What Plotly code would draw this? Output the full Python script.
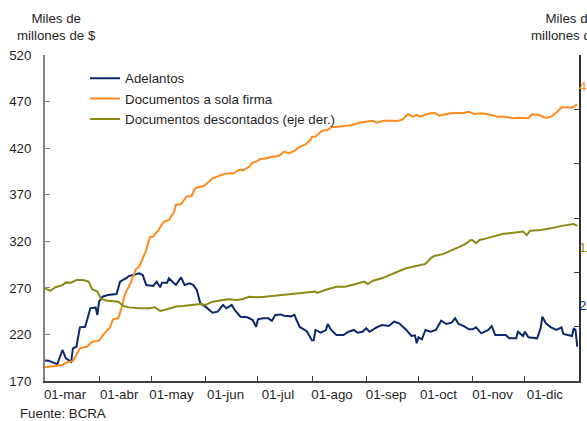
import plotly.graph_objects as go

# ---------------- data ----------------
adelantos_dates = ["2020-03-01","2020-03-03","2020-03-08","2020-03-11","2020-03-13","2020-03-16","2020-03-17","2020-03-19",
    "2020-03-21","2020-03-24","2020-03-27","2020-03-30","2020-03-31","2020-04-01","2020-04-03","2020-04-06","2020-04-11",
    "2020-04-13","2020-04-17","2020-04-18","2020-04-24","2020-04-26","2020-04-28","2020-05-02","2020-05-04","2020-05-06",
    "2020-05-07","2020-05-10","2020-05-11","2020-05-15","2020-05-18","2020-05-20","2020-05-23","2020-05-25","2020-05-27",
    "2020-05-29","2020-06-01","2020-06-05","2020-06-08","2020-06-11","2020-06-13","2020-06-16","2020-06-18","2020-06-21",
    "2020-06-25","2020-06-28","2020-06-30","2020-07-01","2020-07-04","2020-07-07","2020-07-09","2020-07-11","2020-07-14",
    "2020-07-16","2020-07-20","2020-07-22","2020-07-23","2020-07-25","2020-07-29","2020-07-31","2020-08-01","2020-08-02",
    "2020-08-03","2020-08-06","2020-08-09","2020-08-10","2020-08-12","2020-08-15","2020-08-19","2020-08-22","2020-08-25",
    "2020-08-27","2020-08-30","2020-09-01","2020-09-03","2020-09-07","2020-09-10","2020-09-14","2020-09-17","2020-09-20",
    "2020-09-24","2020-09-27","2020-09-29","2020-09-30","2020-10-01","2020-10-03","2020-10-05","2020-10-08","2020-10-11",
    "2020-10-14","2020-10-17","2020-10-20","2020-10-22","2020-10-24","2020-10-27","2020-10-30","2020-11-01","2020-11-03",
    "2020-11-06","2020-11-10","2020-11-12","2020-11-14","2020-11-20","2020-11-22","2020-11-26","2020-11-27","2020-11-30",
    "2020-12-01","2020-12-03","2020-12-08","2020-12-10","2020-12-11","2020-12-13","2020-12-16","2020-12-19","2020-12-22",
    "2020-12-23","2020-12-28","2020-12-29","2020-12-30","2020-12-31"]
adelantos = [192,191.8,188,203.3,194.4,190.7,205,206.8,227.6,228.2,248,249,240.9,255.1,260.5,262.3,263.4,
    276.6,280.9,282.7,285.6,283.8,273,272,276.6,270.6,275.6,275.6,280.2,273,281.3,273,274.9,273,267.7,
    253.4,249.8,243.3,244.4,251.6,248,251.6,245.5,239,238.4,235.5,228.3,236.2,237.3,237.3,234.7,240.9,241.5,
    240,239.4,241,236,228,223.5,216,213.5,213.8,224.8,221.9,224.7,231.2,224.8,219.4,219.4,222.9,224.8,
    221.9,222.9,226.6,222.9,227.6,230.1,229,233.7,231.9,224.8,218.3,219,210.5,216.9,214.8,224.8,222.9,224.8,
    234.7,231.2,232.6,237.3,231.2,229,225.5,225.5,227.6,221.2,224.8,229,219.4,219.4,215.8,215.8,222.9,218.3,
    222.9,216.9,215.8,226.6,239,231.9,227.6,224.8,227.6,220.5,218.3,226.6,224.8,206.8]

sola_firma_dates = ["2020-03-01","2020-03-08","2020-03-11","2020-03-13","2020-03-17","2020-03-21","2020-03-25","2020-03-28",
    "2020-04-01","2020-04-04","2020-04-07","2020-04-09","2020-04-12","2020-04-14","2020-04-16","2020-04-19","2020-04-22",
    "2020-04-24","2020-04-28","2020-04-30","2020-05-02","2020-05-05","2020-05-08","2020-05-11","2020-05-14","2020-05-15",
    "2020-05-18","2020-05-19","2020-05-21","2020-05-24","2020-05-26","2020-05-29","2020-05-31","2020-06-03","2020-06-05",
    "2020-06-10","2020-06-13","2020-06-17","2020-06-20","2020-06-23","2020-06-26","2020-06-28","2020-06-30","2020-07-02",
    "2020-07-06","2020-07-09","2020-07-13","2020-07-16","2020-07-19","2020-07-22","2020-07-25","2020-07-28","2020-07-31",
    "2020-08-01","2020-08-03","2020-08-05","2020-08-07","2020-08-10","2020-08-12","2020-08-16","2020-08-20","2020-08-24",
    "2020-08-28","2020-08-31","2020-09-05","2020-09-07","2020-09-11","2020-09-15","2020-09-19","2020-09-22","2020-09-25",
    "2020-09-28","2020-09-30","2020-10-02","2020-10-06","2020-10-10","2020-10-13","2020-10-17","2020-10-22","2020-10-26",
    "2020-10-30","2020-11-02","2020-11-06","2020-11-12","2020-11-15","2020-11-20","2020-11-24","2020-11-27","2020-12-03",
    "2020-12-05","2020-12-09","2020-12-13","2020-12-16","2020-12-19","2020-12-22","2020-12-25","2020-12-28","2020-12-31"]
sola_firma = [184.7,186.1,187.2,189.7,191.5,205.1,206.8,212.2,
    213.3,221.2,226.6,236.2,237.3,249.8,264.2,274.9,289.9,
    292.7,310.6,324.3,325,332.1,341,342.8,351.8,359,
    360,362.5,367.9,368.6,376.9,378.6,379.4,384,387.6,
    391.2,392.9,392.9,396.5,396.5,400.1,404.4,405.5,408,
    409.1,410.8,411.6,416.2,414.5,417.2,421.6,423.4,428.7,
    432.3,432.6,435.9,438.7,439.5,442.4,443,443.8,444.8,
    447.3,448.4,449.5,447.3,449.5,449.5,449.1,450.9,456.6,
    453.8,455.6,453.8,456.6,458,454.8,456.6,458,457.4,
    459.1,456.6,457.4,455.6,453.8,453.8,452,452.5,452,
    456.3,455.6,452.5,453.8,458,463.8,463.8,463.4,467]

descontados_dates = ["2020-03-01","2020-03-04","2020-03-07","2020-03-11","2020-03-13","2020-03-16","2020-03-19","2020-03-23",
    "2020-03-26","2020-03-28","2020-03-31","2020-04-02","2020-04-05","2020-04-12","2020-04-15","2020-04-18","2020-04-24",
    "2020-04-30","2020-05-03","2020-05-06","2020-05-10","2020-05-15","2020-05-19","2020-05-23","2020-05-29","2020-06-01",
    "2020-06-05","2020-06-11","2020-06-14","2020-06-19","2020-06-22","2020-06-26","2020-07-01","2020-07-05","2020-07-10",
    "2020-07-16","2020-07-22","2020-07-28","2020-08-03","2020-08-04","2020-08-09","2020-08-15","2020-08-20","2020-08-26",
    "2020-08-31","2020-09-02","2020-09-05","2020-09-10","2020-09-15","2020-09-19","2020-09-24","2020-09-29","2020-10-05",
    "2020-10-08","2020-10-10","2020-10-15","2020-10-18","2020-10-21","2020-10-24","2020-10-27","2020-10-31","2020-11-01",
    "2020-11-03","2020-11-05","2020-11-09","2020-11-14","2020-11-18","2020-11-22","2020-11-26","2020-11-30","2020-12-02",
    "2020-12-04","2020-12-10","2020-12-16","2020-12-22","2020-12-27","2020-12-29","2020-12-31"]
descontados = [94.1,93.2,94.5,95.3,96.3,96.2,97.2,97.2,
    96.6,93.8,92.9,90.4,89.6,89.2,87.6,87.1,86.8,
    86.8,87.1,85.8,86.4,87.4,87.6,87.8,88.3,88,
    89.2,89.8,90.1,89.8,90.1,91,90.8,91,91.3,
    91.7,92,92.3,92.9,92.4,93.6,94.7,94.7,95.7,
    96.6,95.7,96.9,97.8,99,100.2,101.5,102.1,103.1,
    105.2,106,106.7,107.6,108.5,109.4,110.1,111.9,111.8,
    110.7,111.9,112.5,113.4,114.1,114.4,114.6,115,113.7,
    115.3,115.6,116.2,117.1,117.4,117.8,117.1]

month_ticks = ["2020-03-01","2020-04-01","2020-05-01","2020-06-01","2020-07-01","2020-08-01",
               "2020-09-01","2020-10-01","2020-11-01","2020-12-01"]
month_labels = ["01-mar","01-abr","01-may","01-jun","01-jul","01-ago","01-sep","01-oct","01-nov","01-dic"]

names = ["Adelantos", "Documentos a sola firma", "Documentos descontados (eje der.)"]
colors = ["#0b2a6b", "#ff8a1e", "#8a8a14"]

FONT = "Liberation Sans, Arial, sans-serif"
FS = 13.3
TXT = "#1f1f1f"

fig = go.Figure()
fig.add_trace(go.Scatter(x=adelantos_dates, y=adelantos, mode="lines", name=names[0],
                         line=dict(color=colors[0], width=2)))
fig.add_trace(go.Scatter(x=sola_firma_dates, y=sola_firma, mode="lines", name=names[1],
                         line=dict(color=colors[1], width=2)))
fig.add_trace(go.Scatter(x=descontados_dates, y=descontados, mode="lines", name=names[2],
                         line=dict(color=colors[2], width=2), yaxis="y2"))

fig.update_layout(
    template="none",
    width=587, height=421,
    margin=dict(l=45, r=8, t=55, b=40, autoexpand=False),
    paper_bgcolor="white", plot_bgcolor="white",
    font=dict(family=FONT, size=FS, color=TXT),
    showlegend=True,
    legend=dict(x=0.075, y=0.975, xanchor="left", yanchor="top", bgcolor="rgba(0,0,0,0)",
                font=dict(family=FONT, size=FS, color=TXT), tracegroupgap=0, itemwidth=30),
    xaxis=dict(type="date", range=["2020-03-01", "2021-01-01"], tickmode="array",
               tickvals=month_ticks, ticktext=month_labels, ticks="inside", ticklen=5,
               tickcolor="#404040", showline=True, linecolor="#404040", linewidth=1.5,
               showgrid=False, zeroline=False, ticklabelshift=20, automargin=False,
               tickfont=dict(family=FONT, size=FS, color=TXT)),
    yaxis=dict(range=[170, 520], dtick=50, tick0=170, ticks="inside", ticklen=5,
               tickcolor="#808080", showline=True, linecolor="#808080", linewidth=2,
               showgrid=False, zeroline=False, automargin=False, ticklabelstandoff=9,
               tickfont=dict(family=FONT, size=FS, color=TXT)),
    yaxis2=dict(range=[60, 180], dtick=20, tick0=60, overlaying="y", side="right",
                ticks="inside", ticklen=5, tickcolor="#404040", showline=True,
                linecolor="#303030", linewidth=1.5, showgrid=False, zeroline=False,
                showticklabels=False, automargin=False),
)

# axis titles
for xc in (56, 570):
    fig.add_annotation(xref="paper", yref="paper", x=(xc - 45) / 534, y=1.0, yshift=55 - 9,
                       text="Miles de<br>millones de $", showarrow=False, xanchor="center",
                       yanchor="top", align="center", font=dict(family=FONT, size=FS, color=TXT))

# end-of-series value labels (clipped at the right edge as in the original)
for vals, col, ypos in ((sola_firma, colors[1], 0.902), (descontados, colors[2], 0.411),
                        (adelantos, colors[0], 0.233)):
    fig.add_annotation(xref="paper", yref="paper", x=1.0, y=ypos, xanchor="left", yanchor="middle",
                       text=f"{vals[-1]:.0f}", showarrow=False, xshift=-2,
                       font=dict(family=FONT, size=FS, color=col))

fig.add_annotation(xref="paper", yref="paper", x=(18 - 45) / 534, y=0, yshift=-32,
                   xanchor="left", yanchor="middle", text="Fuente: BCRA", showarrow=False,
                   font=dict(family=FONT, size=FS, color=TXT))

fig.write_html("out.html", config={"displayModeBar": False},
               post_script="document.body.style.margin='0';document.body.style.overflow='hidden';")
